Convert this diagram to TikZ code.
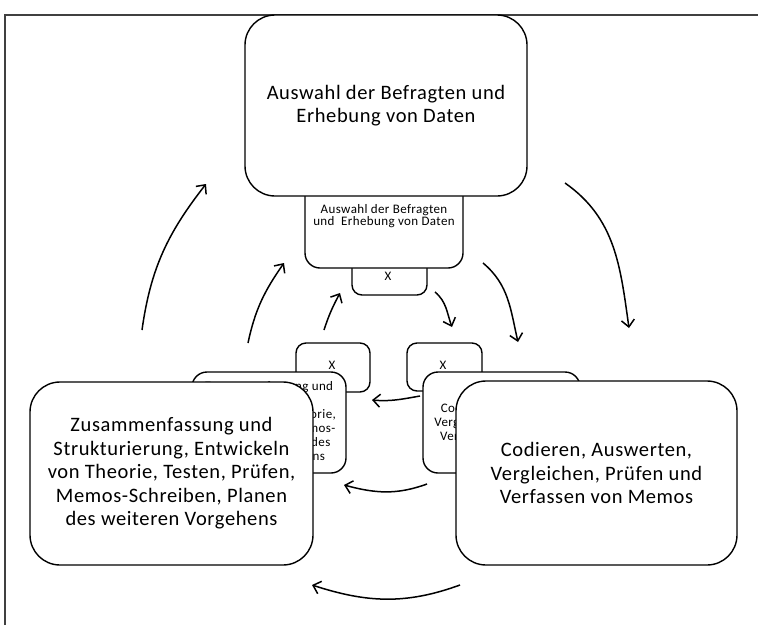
\documentclass[tikz,border=0pt]{standalone}
\usepackage{fontspec}
\setmainfont{Carlito}
\newfontfamily\widefont[LetterSpace=3]{Carlito}
\newfontfamily\widesmall[LetterSpace=3]{Carlito}
\usetikzlibrary{arrows.meta}
\tikzset{
  bigbox/.style={draw, line width=1.4pt, fill=white, rounded corners=30pt, inner sep=0pt, align=center,
    font=\widefont\fontsize{20.5}{23.5}\selectfont},
  midbox/.style={draw, line width=1.4pt, fill=white, rounded corners=15pt, inner sep=0pt, align=center,
    font=\widesmall\fontsize{13}{14}\selectfont},
  xbox/.style={draw, line width=1.4pt, fill=white, rounded corners=10pt, inner sep=0pt},
  smalltxt/.style={inner sep=0pt, align=center, font=\widesmall\fontsize{13}{12.7}\selectfont},
  xlabel/.style={inner sep=0pt, font=\fontsize{13}{14}\selectfont},
  flow/.style={line width=1.5pt, -{Straight Barb[length=7pt, width=13pt, line width=1.5pt]}},
  framecol/.style={line width=2pt, draw=black!75}
}
\begin{document}
\begin{tikzpicture}[x=1pt, y=1pt]
\useasboundingbox (0,0) rectangle (758,-625);
\fill[white] (0,0) rectangle (758,-625);
% frame
\draw[framecol] (5,-625) -- (5,-15) -- (758,-15);

% top stack
\node[xbox, minimum width=75pt, minimum height=45pt] (tx) at (389.5,-272.5) {};
\node[xlabel] (txl) at (388,-276) {X};
\node[midbox, minimum width=158pt, minimum height=98pt] (ts) at (384,-219) {};
\node[smalltxt] (tst) at (384,-216) {Auswahl der Befragten\\und \ Erhebung von Daten};
\node[bigbox, minimum width=282pt, minimum height=181pt] (top) at (386,-105.5)
  {Auswahl der Befragten und\\Erhebung von Daten};

% left stack
\node[xbox, minimum width=74pt, minimum height=49pt] (lx) at (333,-367.5) {};
\node[xlabel] (lxl) at (332,-365) {X};
\node[midbox, minimum width=154pt, minimum height=101pt] (lm) at (269,-422.5)
  {Zusammenfassung und\\Strukturierung,\\Entwickeln von Theorie,\\Testen, Prüfen, Memos-\\Schreiben, Planen des\\weiteren Vorgehens};
\node[bigbox, minimum width=283pt, minimum height=183pt] (left) at (171.5,-473.5)
  {Zusammenfassung und\\Strukturierung, Entwickeln\\von Theorie, Testen, Prüfen,\\Memos-Schreiben, Planen\\des weiteren Vorgehens};

% right stack
\node[xbox, minimum width=75pt, minimum height=48pt] (rx) at (444.5,-367) {};
\node[xlabel] (rxl) at (443,-365) {X};
\node[midbox, minimum width=157pt, minimum height=101pt] (rm) at (501.5,-422.5)
  {Codieren, Auswerten,\\Vergleichen, Prüfen und\\Verfassen von Memos};
\node[bigbox, minimum width=281pt, minimum height=184pt] (right) at (596.5,-473)
  {Codieren, Auswerten,\\Vergleichen, Prüfen und\\Verfassen von Memos};

% arrow end points
\coordinate (a1s) at (142,-330); \coordinate (a1e) at (206,-184);
\coordinate (a2s) at (248,-343); \coordinate (a2e) at (284,-263);
\coordinate (a3s) at (324,-330); \coordinate (a3e) at (340,-293);
\coordinate (a4s) at (565,-183); \coordinate (a4e) at (629,-328);
\coordinate (a5s) at (483,-263); \coordinate (a5e) at (518,-342);
\coordinate (a6s) at (435,-292); \coordinate (a6e) at (452,-327);
\coordinate (a7s) at (420,-396); \coordinate (a7e) at (372,-400);
\coordinate (a8s) at (427,-484); \coordinate (a8e) at (344,-485);
\coordinate (a9s) at (460,-585); \coordinate (a9e) at (312,-585);

\draw[flow] (a1s) to[out=82, in=232] (a1e);
\draw[flow] (a2s) to[out=78, in=235] (a2e);
\draw[flow] (a3s) to[out=72, in=242] (a3e);
\draw[flow] (a4s) to[out=-35, in=98] (a4e);
\draw[flow] (a5s) to[out=-40, in=103] (a5e);
\draw[flow] (a6s) to[out=-40, in=110] (a6e);
\draw[flow] (a7s) to[out=190, in=-5] (a7e);
\draw[flow] (a8s) to[out=200, in=-15] (a8e);
\draw[flow] (a9s) to[out=200, in=-18] (a9e);
\end{tikzpicture}
\end{document}
